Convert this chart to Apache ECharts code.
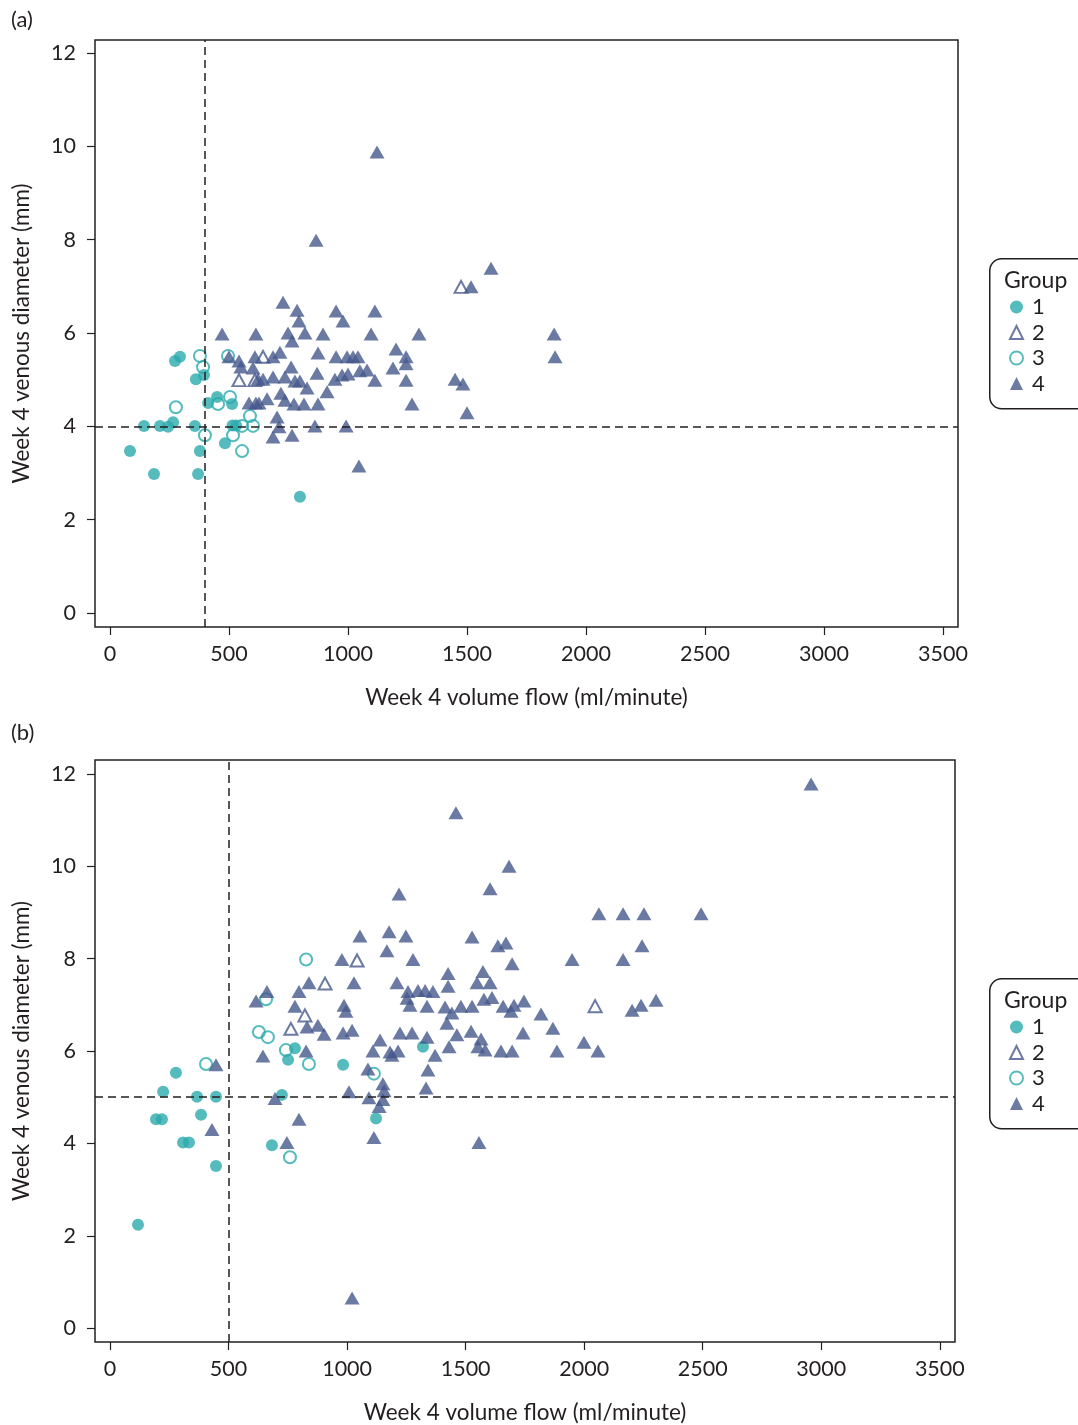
<!DOCTYPE html>
<html>
<head>
<meta charset="utf-8">
<script src="https://cdn.jsdelivr.net/npm/echarts@6/dist/echarts.min.js"></script>
<style>
html,body{margin:0;padding:0;background:#fff;}
#chart{width:1078px;height:1425px;}
</style>
</head>
<body>
<div id="chart"></div>
<script>
// ---- Data ----
const xTicks = [0, 500, 1000, 1500, 2000, 2500, 3000, 3500];
const yTicks = [0, 2, 4, 6, 8, 10, 12];
const groupNames = ['1', '2', '3', '4'];
const xTitle = 'Week 4 volume flow (ml/minute)';
const yTitle = 'Week 4 venous diameter (mm)';

// Panel (a)
const aCutX = 400, aCutY = 4;
const aGroup1 = [[273,5.40],[294,5.49],[361,5.01],[395,5.10],[412,4.50],[450,4.63],[513,4.48],[143,4.01],[210,4.01],[244,3.99],[265,4.09],[357,4.01],[515,4.02],[530,4.02],[483,3.64],[84,3.47],[378,3.47],[185,2.98],[370,2.98],[798,2.49]];
const aGroup2 = [[542,4.99],[609,4.99],[643,5.49],[1475,6.99]];
const aGroup3 = [[378,5.51],[391,5.27],[496,5.51],[277,4.41],[504,4.63],[454,4.48],[588,4.22],[601,4.01],[555,4.01],[399,3.81],[517,3.81],[555,3.47]];
const aGroup4 = [[727,6.66],[786,6.49],[950,6.47],[1113,6.47],[794,6.26],[979,6.26],[471,5.98],[613,5.98],[748,6.00],[819,6.00],[895,5.98],[1097,5.98],[1298,5.98],[765,5.83],[500,5.49],[542,5.40],[550,5.27],[609,5.49],[685,5.49],[714,5.59],[601,5.25],[761,5.27],[874,5.57],[950,5.49],[996,5.49],[1021,5.49],[1042,5.49],[1202,5.66],[1244,5.49],[1244,5.34],[1189,5.25],[870,5.14],[945,5.01],[975,5.10],[1000,5.12],[1050,5.19],[1080,5.21],[1113,4.99],[1244,4.99],[622,5.01],[643,5.01],[685,5.06],[735,5.06],[777,4.97],[798,4.97],[828,4.82],[912,4.74],[718,4.71],[735,4.56],[584,4.50],[613,4.50],[626,4.50],[660,4.59],[773,4.48],[815,4.48],[874,4.48],[1269,4.48],[702,4.20],[710,3.99],[861,4.01],[992,4.01],[685,3.77],[765,3.81],[1046,3.15],[1450,5.01],[1483,4.91],[1500,4.29],[1517,6.99],[1601,7.39],[1122,9.88],[1866,5.98],[1870,5.49],[866,7.99]];

// Panel (b)
const bCutX = 500, bCutY = 5;
const bGroup1 = [[278,5.53],[224,5.12],[367,5.01],[447,5.01],[194,4.52],[219,4.52],[384,4.62],[308,4.02],[333,4.02],[447,3.51],[118,2.24],[780,6.06],[751,5.81],[983,5.70],[725,5.05],[683,3.96],[1320,6.09],[1122,4.54]];
const bGroup2 = [[907,7.46],[822,6.77],[763,6.48],[1042,7.96],[2046,6.97]];
const bGroup3 = [[827,7.98],[658,7.12],[628,6.41],[666,6.30],[742,6.02],[839,5.72],[405,5.72],[759,3.70],[1113,5.51]];
const bGroup4 = [[978,7.98],[839,7.48],[797,7.29],[662,7.29],[616,7.08],[780,6.97],[987,6.99],[995,6.86],[831,6.52],[877,6.56],[903,6.36],[983,6.39],[1021,6.45],[645,5.89],[827,6.00],[447,5.70],[696,4.97],[797,4.52],[430,4.30],[746,4.02],[1008,5.12],[1054,8.49],[1177,8.58],[1248,8.49],[1527,8.47],[1168,8.17],[1278,7.98],[1426,7.68],[1573,7.72],[1029,7.48],[1210,7.48],[1426,7.40],[1548,7.48],[1603,7.48],[1257,7.29],[1299,7.31],[1329,7.31],[1362,7.29],[1253,7.14],[1265,6.99],[1337,6.97],[1413,6.95],[1442,6.82],[1480,6.97],[1527,6.97],[1577,7.12],[1611,7.16],[1421,6.60],[1139,6.24],[1109,6.00],[1181,5.98],[1215,6.00],[1189,5.91],[1223,6.39],[1274,6.39],[1337,6.30],[1463,6.35],[1523,6.43],[1565,6.26],[1552,6.09],[1582,6.02],[1430,6.09],[1371,5.91],[1341,5.59],[1088,5.61],[1333,5.20],[1151,5.29],[1156,5.14],[1092,4.99],[1151,4.95],[1135,4.80],[1113,4.13],[1556,4.02],[1683,10.00],[1603,9.51],[1219,9.40],[2062,8.97],[2164,8.97],[1636,8.28],[1670,8.34],[1696,7.89],[1949,7.98],[2164,7.98],[1658,6.97],[1691,6.86],[1704,6.99],[1746,7.08],[1818,6.80],[1868,6.49],[1999,6.19],[2058,6.00],[1742,6.39],[1885,6.00],[1649,6.00],[1696,6.00],[2957,11.78],[2252,8.97],[2493,8.97],[2244,8.28],[2202,6.88],[2240,6.99],[2303,7.10],[1459,11.16],[1021,0.65]];

// ---- Styles ----
const TEAL = '#2aaaad';
const NAVY = '#46598c';
const INK = '#231f20';
const FONT = 'Lato';
const TICK_FS = 21.5;
const TITLE_FS = 22.5;

const groupStyles = [
  { symbol: 'circle', symbolSize: 12, itemStyle: { color: TEAL, borderWidth: 0 } },
  { symbol: 'triangle', symbolSize: [13, 12], itemStyle: { color: '#ffffff', borderColor: NAVY, borderWidth: 2 } },
  { symbol: 'circle', symbolSize: 12, itemStyle: { color: 'rgba(255,255,255,0)', borderColor: TEAL, borderWidth: 2 } },
  { symbol: 'triangle', symbolSize: [15, 13], itemStyle: { color: NAVY, borderWidth: 0 } }
];

function makeSeries(groups, idx, cutX, cutY) {
  return groups.map((data, g) => {
    const s = Object.assign({
      type: 'scatter',
      name: groupNames[g],
      xAxisIndex: idx,
      yAxisIndex: idx,
      data: data,
      emphasis: { disabled: true },
      animation: false
    }, groupStyles[g]);
    if (g === 0) {
      s.markLine = {
        silent: true,
        symbol: 'none',
        label: { show: false },
        animation: false,
        lineStyle: { color: INK, type: [8, 5], width: 1.5 },
        data: [{ xAxis: cutX }, { yAxis: cutY }]
      };
    }
    return s;
  });
}

function xAxisFor(idx, min, max) {
  return {
    type: 'value', gridIndex: idx, min: min, max: max,
    splitLine: { show: false },
    axisLine: { show: false, onZero: false },
    axisTick: { show: true, inside: false, customValues: xTicks, length: 8, lineStyle: { color: INK, width: 1.2 } },
    axisLabel: { customValues: xTicks, margin: 16, fontSize: TICK_FS, color: INK, fontFamily: FONT, formatter: v => String(v) },
    name: xTitle, nameLocation: 'middle', nameGap: 59,
    nameTextStyle: { fontSize: TITLE_FS, color: INK, fontFamily: FONT }
  };
}
function yAxisFor(idx, min, max) {
  return {
    type: 'value', gridIndex: idx, min: min, max: max,
    splitLine: { show: false },
    axisLine: { show: false, onZero: false },
    axisTick: { show: true, inside: false, customValues: yTicks, length: 8, lineStyle: { color: INK, width: 1.2 } },
    axisLabel: { customValues: yTicks, margin: 19, fontSize: TICK_FS, color: INK, fontFamily: FONT, formatter: v => String(v) },
    name: yTitle, nameLocation: 'middle', nameGap: 62,
    nameTextStyle: { fontSize: TITLE_FS, color: INK, fontFamily: FONT }
  };
}

function legendFor(top) {
  return {
    data: groupNames, orient: 'vertical', left: 1009, top: top,
    itemWidth: 13, itemHeight: 13, itemGap: 3.5,
    selectedMode: false,
    textStyle: { fontSize: 22, color: INK, fontFamily: FONT, lineHeight: 22, padding: [0, 0, 0, 4] },
    padding: 0
  };
}

function legendBox(top) {
  return [
    { type: 'rect', left: 989, top: top, shape: { width: 110, height: 150, r: 12 },
      style: { fill: '#fff', stroke: INK, lineWidth: 1.5 }, z: 0 },
    { type: 'text', left: 1004, top: top + 11, style: { text: 'Group', fontSize: 23, fill: INK, fontFamily: FONT }, z: 1 }
  ];
}

const chart = echarts.init(document.getElementById('chart'), null, { renderer: 'canvas' });
chart.setOption({
  backgroundColor: '#ffffff',
  animation: false,
  textStyle: { fontFamily: FONT },
  grid: [
    { left: 95, top: 40, width: 863, height: 587, show: true, borderColor: INK, borderWidth: 1.5, backgroundColor: '#fff', containLabel: false },
    { left: 95, top: 760, width: 860, height: 586, show: true, borderColor: INK, borderWidth: 1.5, backgroundColor: '#fff', containLabel: false }
  ],
  xAxis: [xAxisFor(0, -63, 3563), xAxisFor(1, -63.3, 3564)],
  yAxis: [yAxisFor(0, -0.30, 12.28), yAxisFor(1, -0.30, 12.30)],
  legend: [legendFor(296), legendFor(1016)],
  graphic: [].concat(
    legendBox(258),
    legendBox(978),
    [
      { type: 'text', left: 11, top: 9, style: { text: '(a)', fontSize: 22, fill: INK, fontFamily: FONT } },
      { type: 'text', left: 11, top: 722, style: { text: '(b)', fontSize: 22, fill: INK, fontFamily: FONT } }
    ]
  ),
  series: [].concat(
    makeSeries([aGroup1, aGroup2, aGroup3, aGroup4], 0, aCutX, aCutY),
    makeSeries([bGroup1, bGroup2, bGroup3, bGroup4], 1, bCutX, bCutY)
  )
});
</script>
</body>
</html>
